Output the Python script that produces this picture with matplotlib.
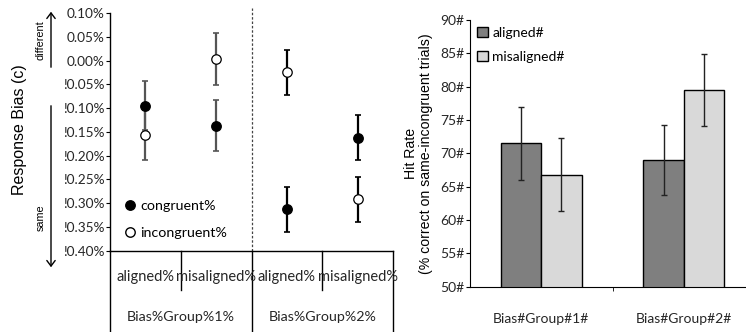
import matplotlib
matplotlib.use("Agg")
import matplotlib.pyplot as plt
import matplotlib.transforms as mtransforms
from matplotlib.lines import Line2D

plt.rcParams['font.family'] = ['Lato', 'DejaVu Sans']

# ---------------- data ----------------
conditions = ["aligned%", "misaligned%", "aligned%", "misaligned%"]
groups_left = ["Bias%Group%1%", "Bias%Group%2%"]
congruent = [-0.095, -0.137, -0.313, -0.162]
congruent_err = [0.052, 0.053, 0.047, 0.048]
incongruent = [-0.157, 0.003, -0.025, -0.292]
incongruent_err = [0.052, 0.054, 0.048, 0.047]
bias_ticks = [0.10, 0.05, 0.00, -0.05, -0.10, -0.15, -0.20, -0.25, -0.30, -0.35, -0.40]
bias_ticklabels = ["0.10%", "0.05%", "0.00%", "!0.05%", "!0.10%", "!0.15%", "!0.20%",
                   "!0.25%", "!0.30%", "!0.35%", "!0.40%"]

groups_right = ["Bias#Group#1#", "Bias#Group#2#"]
aligned_hr = [71.5, 69.0]
aligned_err = [5.5, 5.3]
misaligned_hr = [66.8, 79.5]
misaligned_err = [5.5, 5.4]
hr_ticks = [50, 55, 60, 65, 70, 75, 80, 85, 90]
hr_ticklabels = ["50#", "55#", "60#", "65#", "70#", "75#", "80#", "85#", "90#"]

W, H = 746, 332
fig = plt.figure(figsize=(W / 100, H / 100), dpi=100)

def fx(px):
    return px / W

def fy(py):
    return 1 - py / H

TXT = "#262626"

# ---------------- left panel ----------------
L, R, T, B = 110, 393, 13, 250.7
axl = fig.add_axes([fx(L), fy(B), fx(R - L), (B - T) / H])
xs = list(range(len(conditions)))
axl.set_xlim(-0.5, 3.5)
axl.set_ylim(-0.40, 0.10)
axl.set_yticks(bias_ticks)
axl.set_yticklabels(bias_ticklabels, fontsize=9.8, color=TXT)
axl.tick_params(axis='y', direction='out', length=3, width=0.8, pad=1)
axl.set_xticks([])
for s in ["top", "right"]:
    axl.spines[s].set_visible(False)
axl.spines["left"].set_linewidth(1.0)
axl.spines["bottom"].set_linewidth(1.0)

err_colors = ["#555555", "#555555", "black", "black"]
for i in xs:
    axl.errorbar(i, congruent[i], yerr=congruent_err[i], fmt='none', ecolor=err_colors[i],
                 elinewidth=1.6, capsize=2.5, capthick=1.2, zorder=2)
    axl.errorbar(i, incongruent[i], yerr=incongruent_err[i], fmt='none', ecolor=err_colors[i],
                 elinewidth=1.6, capsize=2.5, capthick=1.2, zorder=2)
axl.plot(xs, congruent, 'o', ls='none', color='black', markersize=6.8, zorder=3)
axl.plot(xs, incongruent, 'o', ls='none', markerfacecolor='white', markeredgecolor='black',
         markeredgewidth=0.9, markersize=6.8, zorder=3)

axl.axvline(1.5, ymin=0, ymax=1.02, color="#444444", lw=0.9, ls=(0, (2, 1.5)), clip_on=False)

# multi-level category axis
trans = mtransforms.blended_transform_factory(axl.transData, axl.transAxes)
bottom_ax = -(H - B) / (B - T)
sep_ax = -(290 - B) / (B - T)
for xv in [-0.5, 1.5, 3.5]:
    axl.add_line(Line2D([xv, xv], [0, bottom_ax], transform=trans, color='black', lw=1.0, clip_on=False))
for xv in [0.5, 2.5]:
    axl.add_line(Line2D([xv, xv], [0, sep_ax], transform=trans, color='black', lw=1.0, clip_on=False))
for i, lab in enumerate(conditions):
    axl.text(i, -(277 - B) / (B - T), lab, transform=trans, ha='center', va='center', fontsize=10.5,
             color=TXT)
for g, lab in enumerate(groups_left):
    axl.text(0.5 + 2 * g, -(317 - B) / (B - T), lab, transform=trans, ha='center', va='center',
             fontsize=10.3, color=TXT)

h1 = Line2D([], [], marker='o', ls='none', color='black', markersize=6.8)
h2 = Line2D([], [], marker='o', ls='none', markerfacecolor='white', markeredgecolor='black',
            markersize=6.8)
axl.legend([h1, h2], ["congruent%", "incongruent%"], loc='lower left',
           bbox_to_anchor=(0.05, 0.05), frameon=False, fontsize=10.3, handlelength=0.8,
           handletextpad=0.3, labelspacing=1.05, borderpad=0, borderaxespad=0)

fig.text(fx(20), fy(130), "Response Bias (c)", rotation=90, ha='center', va='center',
         fontsize=11.5, family='Liberation Sans')
fig.text(fx(41), fy(40), "different", rotation=90, ha='center', va='center', fontsize=7.8,
         family='Liberation Sans')
fig.text(fx(41), fy(218), "same", rotation=90, ha='center', va='center', fontsize=7.8,
         family='Liberation Sans')
fig.add_artist(matplotlib.patches.FancyArrowPatch(
    (fx(51), fy(70)), (fx(51), fy(9)), transform=fig.transFigure,
    arrowstyle='->,head_length=4,head_width=3', color='black', mutation_scale=1,
    linewidth=1.0))
fig.add_artist(matplotlib.patches.FancyArrowPatch(
    (fx(51), fy(103)), (fx(51), fy(270)), transform=fig.transFigure,
    arrowstyle='->,head_length=4,head_width=3', color='black', mutation_scale=1,
    linewidth=1.0))

# ---------------- right panel ----------------
L2, R2, T2, B2 = 470, 755, 20, 286.7
axr = fig.add_axes([fx(L2), fy(B2), fx(R2 - L2), (B2 - T2) / H])
gx = list(range(len(groups_right)))
bw = 0.284
axr.set_xlim(-0.5, 1.5)
axr.set_ylim(50, 90)
axr.bar([g - bw / 2 for g in gx], aligned_hr, width=bw, color="#7f7f7f", edgecolor='black',
        linewidth=1.0, label="aligned#", zorder=2)
axr.bar([g + bw / 2 for g in gx], misaligned_hr, width=bw, color="#d9d9d9", edgecolor='black',
        linewidth=1.0, label="misaligned#", zorder=2)
axr.errorbar([g - bw / 2 for g in gx], aligned_hr, yerr=aligned_err, fmt='none',
             ecolor='#222222', elinewidth=1.0, capsize=2.5, capthick=1.0, zorder=3)
axr.errorbar([g + bw / 2 for g in gx], misaligned_hr, yerr=misaligned_err, fmt='none',
             ecolor='#222222', elinewidth=1.0, capsize=2.5, capthick=1.0, zorder=3)
axr.set_yticks(hr_ticks)
axr.set_yticklabels(hr_ticklabels, fontsize=10, color=TXT)
axr.set_xticks(gx)
axr.set_xticklabels(groups_right, fontsize=10, color=TXT)
axr.set_xticks([0.5], minor=True)
axr.tick_params(axis='x', which='major', length=0, pad=19)
axr.tick_params(axis='x', which='minor', length=3, direction='out')
axr.tick_params(axis='y', direction='out', length=3, pad=1)
for s in ["top", "right"]:
    axr.spines[s].set_visible(False)
axr.set_ylabel("Hit Rate\n(% correct on same-incongruent trials)", fontsize=10.2,
               family='Liberation Sans', labelpad=5, linespacing=1.1)
axr.legend(loc='upper left', bbox_to_anchor=(0.025, 0.975), frameon=False, fontsize=10,
           handlelength=0.8, handleheight=0.8, handletextpad=0.3, labelspacing=0.85,
           borderpad=0, borderaxespad=0)

fig.savefig("out.png", dpi=100)
